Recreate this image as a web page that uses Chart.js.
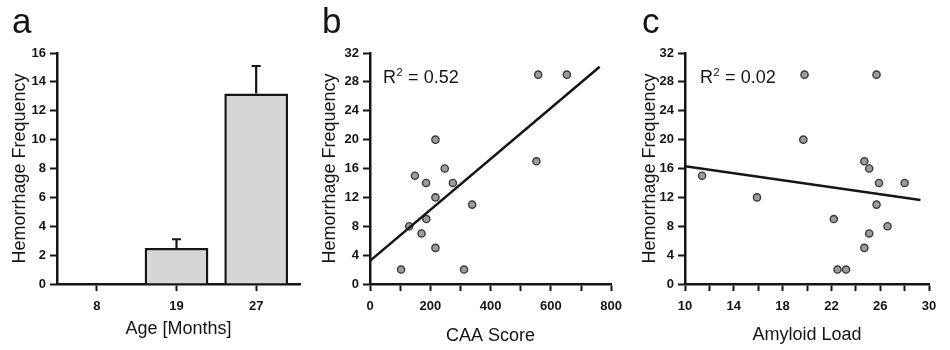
<!DOCTYPE html>
<html>
<head>
<meta charset="utf-8">
<script src="https://cdn.jsdelivr.net/npm/chart.js@4.4.1/dist/chart.umd.min.js"></script>
<style>
  html, body { margin: 0; padding: 0; background: #fff; }
  #wrap { position: relative; width: 950px; height: 350px; overflow: hidden; }
  .panel { position: absolute; top: 0; height: 350px; }
</style>
</head>
<body>
<div id="wrap">
  <div class="panel" style="left:0;width:310px"><canvas id="chartA"></canvas></div>
  <div class="panel" style="left:310px;width:320px"><canvas id="chartB"></canvas></div>
  <div class="panel" style="left:630px;width:320px"><canvas id="chartC"></canvas></div>
</div>
<script>
// Panel a: hemorrhage frequency by age
var ageLabels = ['8', '19', '27'];
var ageMeans = [0, 2.5, 13.2];
var ageErrors = [0, 0.6, 1.9];

// Panel b: hemorrhage frequency vs CAA score
var caaScore = [558, 653, 552, 217, 248, 149, 186, 275, 217, 339, 130, 187, 171, 217, 103, 312];
var caaFreq  = [29, 29, 17, 20, 16, 15, 14, 14, 12, 11, 8, 9, 7, 5, 2, 2];
var caaFitX = [0, 762];
var caaFitY = [3.2, 30.1];
var caaR2 = '0.52';

// Panel c: hemorrhage frequency vs amyloid load
var amyLoad = [19.8, 25.7, 19.7, 24.7, 25.1, 25.9, 28.0, 11.4, 15.9, 25.7, 22.2, 26.6, 25.1, 24.7, 22.5, 23.2];
var amyFreq = [29, 29, 20, 17, 16, 14, 14, 15, 12, 11, 9, 8, 7, 5, 2, 2];
var amyFitX = [10, 29.3];
var amyFitY = [16.3, 11.65];
var amyR2 = '0.02';

var FONT = '"Liberation Sans", Arial, Helvetica, sans-serif';
var INK = '#151515';
var TICKFONT = {size: 13, weight: 'bold'};

Chart.defaults.font.family = FONT;
Chart.defaults.color = INK;
Chart.defaults.animation = false;

function pairs(xs, ys) {
    return xs.map(function(x, i) { return {x: x, y: ys[i]}; });
}

// panel letter and R squared text
var labelsPlugin = {
    id: 'panelText',
    afterDraw: function(chart, args, opts) {
        var ctx = chart.ctx;
        ctx.save();
        ctx.fillStyle = INK;
        ctx.textBaseline = 'alphabetic';
        ctx.textAlign = 'left';
        ctx.font = '35px ' + FONT;
        ctx.fillText(opts.letter, opts.letterX, 33);
        if (opts.r2) {
            var x = chart.chartArea.left + opts.r2Dx;
            var y = 83;
            ctx.font = '18px ' + FONT;
            ctx.fillText('R', x, y);
            x += ctx.measureText('R').width;
            ctx.font = '11px ' + FONT;
            ctx.fillText('2', x + 0.5, y - 7);
            x += ctx.measureText('2').width + 1;
            ctx.font = '18px ' + FONT;
            ctx.fillText(' = ' + opts.r2, x, y);
        }
        ctx.restore();
    }
};

// upward error bars for panel a
var errorBarPlugin = {
    id: 'errorBars',
    afterDatasetsDraw: function(chart, args, opts) {
        if (!opts.errors) return;
        var meta = chart.getDatasetMeta(0);
        var ys = chart.scales.y;
        var ctx = chart.ctx;
        ctx.save();
        ctx.strokeStyle = INK;
        ctx.lineWidth = 2.2;
        meta.data.forEach(function(bar, i) {
            var err = opts.errors[i];
            if (!err) return;
            var top = ys.getPixelForValue(ageMeans[i] + err);
            ctx.beginPath();
            ctx.moveTo(bar.x, bar.y);
            ctx.lineTo(bar.x, top);
            ctx.moveTo(bar.x - 4.5, top);
            ctx.lineTo(bar.x + 4.5, top);
            ctx.stroke();
        });
        ctx.restore();
    }
};

function axisStyle(extra) {
    var base = {
        border: {display: true, color: INK, width: 2.5},
        grid: {drawOnChartArea: false, tickLength: 7, tickColor: INK, tickWidth: 2, offset: false},
        ticks: {font: TICKFONT, color: INK}
    };
    return Object.assign(base, extra);
}

function yAxis(max, step, leftWidth) {
    var ax = axisStyle({
        min: 0, max: max,
        afterFit: function(scale) { scale.width = leftWidth; },
        title: {display: true, text: 'Hemorrhage Frequency', font: {size: 18}, color: INK, padding: {top: 9, bottom: 0}}
    });
    ax.ticks = {font: TICKFONT, color: INK, stepSize: step, padding: 4};
    return ax;
}

function xTitle(text, padBottom) {
    return {display: true, text: text, font: {size: 18}, color: INK, padding: {top: 0, bottom: padBottom}};
}

// Panel a
new Chart(document.getElementById('chartA'), {
    type: 'bar',
    data: {
        datasets: [{
            data: pairs([0, 1, 2], ageMeans),
            backgroundColor: '#d6d6d6',
            borderColor: INK,
            borderWidth: 2.5,
            barPercentage: 0.8,
            categoryPercentage: 1.0
        }]
    },
    options: {
        responsive: true,
        maintainAspectRatio: false,
        layout: {padding: {top: 53, right: 10, bottom: 0, left: 0}},
        plugins: {
            legend: {display: false},
            tooltip: {enabled: false},
            panelText: {letter: 'a', letterX: 12},
            errorBars: {errors: ageErrors}
        },
        scales: {
            x: axisStyle({
                type: 'linear', min: -0.5, max: 2.55, offset: false,
                afterFit: function(scale) { scale.height = 66; },
                ticks: {
                    stepSize: 1, includeBounds: false, padding: 8, font: TICKFONT, color: INK,
                    callback: function(v) { return ageLabels[v]; }
                },
                title: xTitle('Age [Months]', 10)
            }),
            y: yAxis(16, 2, 57)
        }
    },
    plugins: [labelsPlugin, errorBarPlugin]
});

function scatterPanel(id, xs, ys, fitX, fitY, xOpts, title, titlePad, leftWidth, rightPad, letter, r2Dx, r2) {
    return new Chart(document.getElementById(id), {
        type: 'scatter',
        data: {
            datasets: [{
                data: pairs(xs, ys),
                pointRadius: 3.6,
                pointBackgroundColor: '#9c9c9c',
                pointBorderColor: '#3a3a3a',
                pointBorderWidth: 1.4
            }, {
                data: pairs(fitX, fitY),
                showLine: true,
                pointRadius: 0,
                borderColor: INK,
                borderWidth: 2.5,
                order: -1
            }]
        },
        options: {
            responsive: true,
            maintainAspectRatio: false,
            layout: {padding: {top: 53, right: rightPad, bottom: 0, left: 0}},
            plugins: {
                legend: {display: false},
                tooltip: {enabled: false},
                panelText: {letter: letter, letterX: 12, r2: r2, r2Dx: r2Dx}
            },
            scales: {
                x: axisStyle({
                    min: xOpts.min, max: xOpts.max,
                    afterFit: function(scale) { scale.height = 66; },
                    ticks: {
                        stepSize: xOpts.step, padding: 8, font: TICKFONT, color: INK,
                        maxRotation: 0, autoSkip: false,
                        callback: function(v) {
                            return ((v - xOpts.min) % xOpts.labelEvery === 0) ? String(v) : '';
                        }
                    },
                    title: xTitle(title, titlePad)
                }),
                y: yAxis(32, 4, leftWidth)
            }
        },
        plugins: [labelsPlugin]
    });
}

// Panel b
scatterPanel('chartB', caaScore, caaFreq, caaFitX, caaFitY,
    {min: 0, max: 800, step: 100, labelEvery: 200},
    'CAA Score', 3, 60, 17, 'b', 13, caaR2);

// Panel c
scatterPanel('chartC', amyLoad, amyFreq, amyFitX, amyFitY,
    {min: 10, max: 30, step: 2, labelEvery: 4},
    'Amyloid Load', 4, 55, 21, 'c', 15, amyR2);
</script>
</body>
</html>
